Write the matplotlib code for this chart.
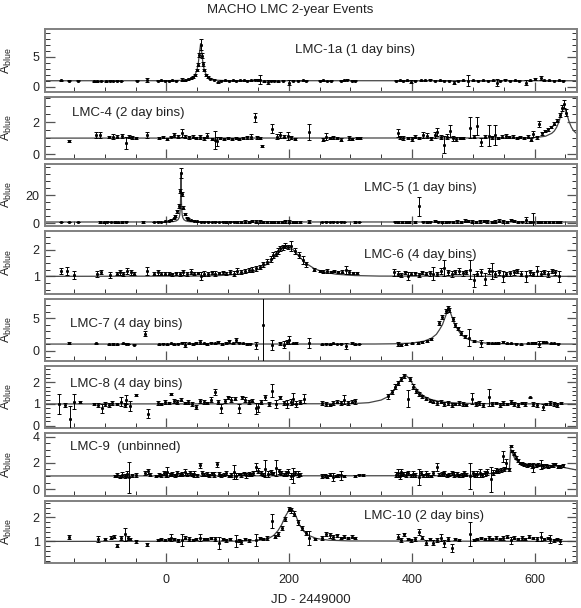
import numpy as np
import matplotlib
matplotlib.use("Agg")
import matplotlib.pyplot as plt
from matplotlib.ticker import MultipleLocator, FixedLocator

plt.rcParams['font.family'] = ['Liberation Sans', 'DejaVu Sans']
plt.rcParams['mathtext.fontset'] = 'custom'
plt.rcParams['mathtext.rm'] = 'Liberation Sans'

# light curves: (JD - 2449000, A_blue, error)
lmc1 = [(-171,1.05,.08),(-159,1.0,.06),(-144,1.0,.06),(-117,.95,.08),(-112,.9,.06),(-106,.95,.07),(-98,.9,.08),
        (-92,1.0,.07),(-86,.95,.06),(-80,1.0,.08),(-74,.95,.07),(-47,1.0,.06),(-32,1.15,.3),(-14,1.0,.06),(-8,1.05,.05),
        (-2,1.0,.06),(4,1.0,.05),(10,1.1,.08),(16,1.0,.06),(25,1.2,.3),(30,1.1,.06),(35,1.25,.08),(40,1.4,.1),
        (44,1.65,.12),(47,2.0,.15),(50,2.8,.2),(52,3.7,.3),(54,5.3,.4),(56,7.0,.9),(58,5.2,.4),(60,3.8,.3),(62,2.8,.2),
        (65,2.0,.15),(68,1.6,.12),(72,1.35,.1),(77,1.15,.08),(84,.75,.12),(90,1.0,.06),(96,1.05,.06),(102,1.0,.07),
        (108,1.1,.06),(114,1.0,.08),(120,1.05,.06),(126,1.1,.07),(132,1.0,.06),(138,1.05,.08),(144,1.2,.1),(149,1.1,.12),
        (153,1.2,.8),(160,.9,.1),(165,.75,.35),(170,1.0,.07),(176,1.0,.06),(182,.95,.08),(190,1.0,.06),(200,.7,.35),
        (206,1.0,.06),(214,1.0,.07),(222,1.05,.06),(228,1.0,.06),(250,1.0,.06),(256,1.05,.07),(262,.95,.06),(268,1.0,.05),
        (285,1.0,.07),(290,1.05,.08),(295,1.2,.1),(302,1.0,.06),(308,1.0,.06),(374,1.0,.08),(380,1.1,.07),(386,1.0,.06),
        (392,1.05,.08),(399,.8,.25),(405,1.0,.07),(415,1.05,.06),(422,1.1,.08),(430,1.2,.08),(438,1.0,.07),(446,1.05,.06),
        (452,1.0,.07),(460,1.0,.06),(468,.7,.3),(476,1.0,.08),(484,1.05,.07),(492,1.0,.9),(500,1.1,.06),(508,1.0,.07),
        (516,1.05,.06),(524,1.0,.08),(532,1.1,.06),(538,.7,.6),(544,1.0,.07),(552,1.2,.1),(560,1.0,.06),(568,1.1,.08),
        (575,1.0,.07),(586,.7,.4),(592,1.05,.06),(600,1.3,.2),(610,1.5,.3),(616,1.1,.08),(624,1.1,.06),(632,1.0,.07),
        (640,1.05,.06),(646,1.0,.05)]
lmc1_fit = [(-197,1.0),(0,1.01),(20,1.05),(30,1.09),(36,1.24),(43,1.56),(47,2.03),(50,2.77),(52,3.75),(54,5.53),
            (56,7.19),(58,5.53),(60,3.75),(62,2.77),(65,2.03),(69,1.56),(76,1.24),(82,1.09),(92,1.04),(110,1.01),(669,1.0)]

lmc4 = [(-159,.82,.08),(-114,1.2,.2),(-108,1.2,.2),(-93,1.05,.06),(-86,1.1,.15),(-80,1.1,.1),(-72,1.15,.12),(-65,.7,.4),
        (-60,1.1,.12),(-55,1.05,.08),(-50,1.0,.06),(-32,1.2,.2),(-11,1.0,.05),(-5,1.05,.06),(1,.95,.05),(7,1.1,.06),
        (13,1.2,.1),(19,1.1,.08),(25,1.35,.25),(31,1.1,.12),(37,1.05,.08),(43,1.1,.1),(49,1.0,.06),(55,1.05,.12),
        (61,1.0,.1),(67,1.15,.15),(74,.95,.08),(79,.9,.55),(83,.8,.3),(88,1.0,.08),(94,.95,.06),(100,1.0,.05),
        (107,.95,.06),(113,1.0,.07),(119,.95,.06),(125,1.0,.06),(131,1.05,.08),(138,1.1,.15),(144,2.3,.27),(148,1.05,.08),
        (152,1.0,.06),(156,.5,.05),(173,1.6,.3),(180,1.1,.15),(186,1.2,.2),(192,1.1,.1),(198,1.15,.25),(204,1.05,.1),
        (210,.95,.06),(233,1.4,.5),(256,.9,.1),(260,1.1,.2),(266,1.0,.06),(272,1.05,.1),(278,1.0,.06),(284,.9,.08),
        (297,1.0,.12),(303,.95,.06),(310,1.0,.07),(316,1.0,.06),(377,1.35,.25),(380,1.05,.08),(386,1.0,.12),(393,1.0,.06),
        (400,.95,.12),(406,1.1,.1),(412,1.0,.08),(418,1.2,.2),(424,1.15,.15),(431,1.0,.1),(437,1.2,.2),(441,1.4,.25),
        (447,1.05,.12),(453,.6,.55),(458,1.1,.15),(462,1.45,.35),(467,1.0,.15),(472,.95,.12),(478,1.0,.08),(484,1.0,.06),
        (495,1.65,.65),(501,1.1,.1),(507,1.75,.55),(513,.75,.25),(519,1.1,.1),(525,1.15,.65),(531,1.05,.1),(535,1.2,.6),
        (541,1.0,.08),(547,1.1,.1),(553,1.15,.12),(559,1.05,.06),(565,1.1,.08),(571,1.0,.06),(577,1.05,.07),(583,1.0,.08),
        (589,1.1,.12),(594,.9,.1),(598,1.25,.2),(604,1.05,.08),(608,1.9,.2),(612,1.3,.1),(617,1.45,.08),(622,1.55,.08),
        (627,1.7,.08),(632,1.9,.1),(637,2.1,.1),(641,2.45,.15),(645,2.9,.2),(648,3.15,.25),(652,2.6,.2)]
lmc4_fit = [(-197,1.0),(560,1.01),(590,1.02),(603,1.04),(618,1.12),(628,1.30),(632,1.44),(636,1.68),(640,2.05),
            (644,2.58),(648,2.95),(652,2.58),(656,2.05),(660,1.68),(664,1.44),(669,1.27)]

lmc5 = [(-171,1.0,.3),(-159,1.0,.3),(-144,1.0,.3),(-108,1.0,.4),(-102,.8,.3),(-96,1.2,.4),(-90,1.0,.3),(-84,1.1,.5),
        (-78,.9,.3),(-72,1.0,.4),(-66,1.2,.3),(-38,1.0,.5),(-20,1.0,.3),(-14,1.2,.4),(-8,1.0,.3),(-2,1.4,.4),(4,1.8,.4),
        (8,2.5,.5),(12,3.5,.6),(15,5.0,.7),(18,8.5,1.0),(20,12.5,1.5),(22,23.0,1.5),(24,35.5,3.5),(26,21.0,1.5),
        (28,11.0,1.0),(30,6.5,.7),(33,4.0,.5),(36,3.0,.5),(40,2.2,.4),(45,1.8,.4),(50,1.5,.3),(56,1.3,.3),(62,1.2,.3),
        (68,1.1,.4),(74,1.0,.3),(80,1.1,.4),(86,1.0,.3),(92,1.2,.5),(98,1.0,.4),(104,1.1,.3),(110,1.3,.5),(116,1.0,.4),
        (122,1.2,.6),(128,1.3,.8),(134,1.0,.5),(140,1.5,.8),(146,1.2,1.0),(152,1.6,1.1),(158,1.0,.5),(164,1.2,.6),
        (170,1.3,.7),(176,1.1,.5),(182,1.0,.4),(188,1.2,.6),(194,1.4,.8),(200,1.3,1.0),(206,1.2,.6),(212,1.0,.4),
        (218,1.1,.5),(233,1.3,1.0),(254,1.0,.3),(260,1.1,.4),(266,1.0,.3),(272,1.2,.4),(278,1.0,.3),(284,1.1,.4),
        (290,1.0,.3),(308,1.0,.5),(314,1.0,.3),(372,1.1,.4),(378,1.0,.5),(384,1.2,.6),(390,1.0,.4),(396,1.1,.8),
        (405,1.0,.5),(411,12.0,6.5),(418,1.2,.5),(424,1.0,.4),(430,1.3,.6),(437,1.6,.7),(443,1.2,.5),(449,1.0,.4),
        (455,1.1,.5),(461,1.3,.6),(467,1.2,.7),(474,1.4,1.0),(480,1.2,.6),(486,1.8,1.0),(492,1.6,.9),(498,1.3,1.2),
        (505,1.0,.5),(511,1.4,1.1),(517,1.7,1.0),(523,1.6,1.0),(530,1.1,.6),(536,1.3,1.1),(542,1.8,1.0),(549,1.5,.9),
        (555,1.2,.7),(561,2.2,.8),(567,1.5,.8),(573,1.0,.5),(579,1.3,.6),(586,2.5,2.0),(592,1.2,.8),(598,1.2,6.5),
        (605,1.1,.6),(611,1.0,.5),(617,1.2,.6),(623,1.0,.4),(630,1.1,.5),(636,1.3,.7),(642,1.0,.4)]
lmc5_fit = [(-197,1.0),(-6,1.03),(6,1.13),(12,1.34),(16,1.74),(19,2.55),(21,4.07),(22,5.98),(23,11.4),(23.5,19.9),
            (24,35.7),(24.5,19.9),(25,11.4),(26,5.98),(27,4.07),(29,2.55),(32,1.74),(36,1.34),(42,1.13),(54,1.03),(669,1.0)]

lmc6 = [(-171,1.2,.12),(-162,1.2,.15),(-150,1.05,.15),(-113,1.1,.12),(-106,1.15,.08),(-92,1.05,.1),(-80,1.1,.06),
        (-75,1.15,.1),(-70,1.1,.08),(-64,1.2,.1),(-58,1.15,.1),(-53,1.1,.06),(-32,1.2,.15),(-20,1.1,.05),(-14,1.15,.1),
        (-8,1.1,.05),(-2,1.1,.05),(4,1.1,.06),(10,1.08,.05),(16,1.12,.06),(22,1.1,.08),(28,1.15,.1),(34,1.1,.08),
        (40,1.18,.08),(46,1.1,.06),(52,1.12,.05),(56,1.02,.15),(62,1.1,.1),(68,1.08,.08),(74,1.15,.06),(80,1.1,.1),
        (86,1.12,.05),(92,1.15,.06),(98,1.1,.05),(104,1.15,.08),(110,1.1,.1),(116,1.2,.1),(122,1.15,.08),(128,1.2,.08),
        (134,1.25,.08),(140,1.25,.1),(146,1.3,.08),(152,1.35,.08),(158,1.45,.1),(164,1.55,.1),(170,1.65,.12),
        (174,1.8,.1),(178,1.85,.1),(182,1.95,.1),(186,2.05,.08),(190,2.1,.1),(194,2.15,.1),(198,2.1,.08),(203,2.15,.18),
        (210,1.95,.1),(216,1.8,.1),(222,1.6,.15),(228,1.45,.08),(240,1.25,.06),(250,1.2,.05),(256,1.18,.05),
        (262,1.2,.06),(268,1.15,.04),(274,1.2,.05),(280,1.15,.04),(286,1.18,.06),(292,1.25,.15),(298,1.15,.08),
        (304,1.12,.04),(310,1.12,.04),(371,1.15,.12),(377,1.1,.1),(383,1.05,.08),(389,1.15,.06),(393,1.0,.15),
        (399,1.1,.05),(405,1.12,.06),(411,1.05,.08),(417,1.15,.06),(423,1.1,.05),(429,1.12,.1),(435,1.1,.25),
        (441,1.1,.08),(447,1.2,.1),(453,1.3,.3),(459,1.15,.1),(465,1.1,.12),(471,1.15,.08),(477,1.2,.1),(483,1.12,.1),
        (489,1.15,.08),(495,1.25,.35),(501,.85,.25),(507,1.1,.1),(513,1.15,.12),(520,.9,.22),(526,1.2,.1),(530,1.2,.3),
        (536,1.1,.12),(542,1.15,.1),(548,1.0,.2),(554,1.1,.08),(560,1.12,.1),(566,1.15,.1),(572,1.2,.08),(578,1.1,.1),
        (586,1.0,.2),(592,1.15,.1),(598,1.1,.08),(604,1.2,.18),(610,1.1,.1),(616,1.15,.08),(622,1.1,.12),(628,1.2,.08),
        (634,1.15,.1),(640,1.0,.2)]
lmc6_fit = [(-197,1.0),(47,1.01),(87,1.03),(117,1.08),(137,1.16),(152,1.28),(167,1.5),(177,1.73),(187,2.0),(197,2.15),
            (207,2.0),(217,1.73),(227,1.5),(242,1.28),(257,1.16),(277,1.08),(307,1.03),(347,1.01),(669,1.0)]

lmc7 = [(-159,1.1,.15),(-114,1.1,.08),(-93,.95,.08),(-86,1.0,.1),(-80,.95,.08),(-71,1.1,.1),(-66,1.05,.08),(-62,1.0,.06),
        (-53,.9,.08),(-35,2.6,.4),(-11,1.0,.08),(-5,1.05,.06),(1,1.0,.08),(7,1.1,.06),(13,1.0,.08),(19,1.05,.06),
        (25,1.2,.1),(31,.9,.4),(37,1.1,.08),(43,1.0,.1),(49,1.15,.1),(55,1.3,.3),(61,1.1,.1),(67,1.05,.12),(73,1.2,.1),
        (79,1.1,.08),(85,1.3,.15),(91,1.0,.1),(97,1.2,.12),(103,1.4,.2),(109,1.1,.12),(113,1.6,.35),(119,1.2,.1),
        (125,1.1,.08),(131,1.0,.1),(137,1.05,.08),(146,.8,.5),(157,4.0,6.0),(173,.9,.8),(185,1.1,.2),(191,.9,.5),
        (197,1.3,.25),(200,1.6,.6),(206,1.1,.1),(212,1.2,.15),(233,1.2,.8),(254,1.0,.08),(260,1.05,.06),(266,1.0,.08),
        (272,1.1,.1),(278,1.0,.06),(284,1.05,.1),(293,.7,.5),(302,1.1,.15),(308,1.0,.08),(314,1.0,.06),(378,1.0,.25),
        (383,.9,.15),(390,1.05,.12),(400,1.1,.1),(410,1.15,.12),(416,1.25,.15),(424,1.45,.15),(432,1.8,.15),
        (445,4.2,.3),(450,5.1,.3),(456,6.1,.3),(459,6.5,.3),(461,6.2,.3),(467,4.9,.3),(470,3.9,.3),(475,3.4,.3),
        (480,2.7,.25),(486,2.2,.2),(493,2.0,1.3),(502,1.5,.15),(513,1.1,.6),(524,1.2,.12),(530,1.1,.1),(535,1.1,.1),
        (541,1.15,.1),(549,1.3,.15),(555,1.1,.1),(562,1.1,.1),(570,1.05,.1),(578,1.0,.08),(589,1.1,.1),(595,1.15,.1),
        (600,1.2,.12),(608,1.0,.5),(614,1.3,.15),(619,1.25,.1),(627,1.1,.08),(632,1.1,.08),(638,1.05,.06)]
lmc7_fit = [(-197,1.0),(340,1.01),(370,1.04),(400,1.15),(420,1.45),(432,1.9),(440,2.5),(445,3.2),(450,4.0),(455,5.3),
            (460,6.6),(465,5.3),(470,4.0),(475,3.2),(480,2.5),(488,1.9),(500,1.45),(520,1.15),(550,1.05),(600,1.01),(669,1.0)]

lmc8 = [(-174,1.0,.45),(-165,.95,.08),(-156,.3,.6),(-150,1.1,.35),(-141,1.1,.05),(-117,1.0,.06),(-111,.95,.08),
        (-105,.8,.22),(-99,1.0,.1),(-93,.95,.08),(-89,1.05,.1),(-80,1.0,.06),(-74,1.1,.2),(-68,.95,.1),(-65,1.2,.22),
        (-59,.9,.22),(-50,1.4,.05),(-29,.55,.2),(-14,1.05,.1),(-8,1.0,.06),(-2,1.1,.08),(4,1.05,.06),(7,1.45,.06),
        (12,1.15,.1),(18,1.1,.08),(24,1.2,.08),(30,1.05,.06),(36,1.1,.1),(42,1.0,.08),(49,.85,.1),(55,1.15,.1),
        (61,1.1,.08),(67,1.05,.06),(73,1.2,.1),(79,1.55,.15),(85,1.1,.08),(90,.8,.2),(96,1.15,.1),(101,1.3,.08),
        (106,1.2,.1),(112,1.25,.08),(118,.8,.22),(124,1.3,.06),(128,1.2,.1),(134,1.1,.08),(140,1.15,.06),(146,.8,.25),
        (150,.85,.2),(155,1.1,.08),(161,1.3,.1),(167,1.0,.1),(173,1.6,.3),(179,1.0,.2),(185,1.3,.08),(191,1.05,.1),
        (197,1.0,.2),(203,1.1,.15),(206,1.25,.25),(212,1.0,.15),(218,1.1,.1),(224,1.25,.22),(254,1.05,.08),(260,1.0,.1),
        (266,.95,.06),(272,1.05,.08),(278,1.1,.06),(284,1.05,.1),(290,1.2,.22),(296,1.05,.08),(302,1.1,.06),
        (308,1.12,.1),(362,1.35,.1),(368,1.55,.1),(373,1.8,.1),(378,1.95,.1),(383,2.15,.1),(388,2.3,.1),(393,1.25,.38),
        (397,2.15,.1),(402,1.8,.1),(407,1.6,.1),(412,1.45,.08),(417,1.35,.08),(423,1.25,.06),(429,1.15,.08),
        (435,1.1,.06),(441,1.05,.08),(447,1.1,.06),(453,1.0,.1),(459,1.05,.08),(465,.95,.1),(471,1.0,.06),
        (477,1.05,.08),(483,1.0,.1),(489,.95,.06),(498,1.25,.25),(504,1.0,.08),(510,1.05,.1),(516,.95,.08),(525,1.3,.4),
        (531,1.0,.1),(537,1.05,.06),(543,.95,.08),(549,1.05,.1),(555,1.0,.06),(561,1.1,.08),(567,1.0,.1),(573,.95,.08),
        (579,1.05,.06),(585,1.0,.08),(592,1.3,.03),(598,1.0,.1),(604,.95,.08),(613,.85,.15),(619,1.0,.06),(625,1.05,.08),
        (631,1.0,.1),(637,.95,.08),(643,1.05,.06)]
lmc8_fit = [(-197,1.0),(300,1.01),(330,1.06),(350,1.18),(360,1.32),(370,1.6),(378,1.95),(384,2.2),(389,2.34),
            (395,2.2),(402,1.9),(410,1.6),(420,1.35),(432,1.2),(450,1.09),(480,1.03),(530,1.01),(669,1.0)]

lmc9 = [(-84,1.0,.1),(-80,1.05,.15),(-76,.95,.1),(-72,1.1,.2),(-68,1.0,.15),(-64,1.15,.2),(-60,.9,1.2),(-56,1.05,.12),
        (-50,1.1,.15),(-35,1.2,.15),(-30,1.35,.2),(-26,1.1,.1),(-17,1.0,.1),(-12,1.1,.12),(-8,1.05,.1),(-4,1.2,.15),
        (0,1.1,.2),(2,1.3,.4),(6,1.1,.1),(10,1.15,.15),(14,1.05,.1),(18,1.2,.2),(22,1.1,.1),(26,1.15,.15),(30,1.3,.2),
        (34,1.1,.1),(38,1.2,.15),(42,1.1,.12),(46,1.15,.2),(50,1.05,.1),(55,1.8,.18),(58,1.2,.2),(62,1.1,.1),
        (66,1.15,.15),(70,1.05,.1),(74,1.2,.12),(78,1.1,.2),(82,1.9,.2),(86,1.15,.15),(90,1.05,.1),(94,1.1,.12),
        (98,1.2,.15),(102,1.0,.1),(106,1.1,.15),(110,1.3,.5),(114,1.0,.2),(118,1.15,.1),(122,1.1,.15),(126,1.2,.1),
        (130,1.05,.2),(134,1.15,.15),(138,1.1,.1),(142,1.25,.15),(146,1.7,.3),(150,1.4,.2),(154,1.2,.15),(158,1.1,.1),
        (161,1.55,.65),(165,1.15,.2),(170,1.3,.15),(174,1.2,.1),(179,1.6,.6),(183,1.35,.2),(187,1.25,.15),(191,1.1,.1),
        (195,1.2,.2),(199,1.3,.25),(203,1.0,.2),(206,1.05,.55),(210,1.2,.15),(214,1.15,.2),(218,1.1,.1),(254,1.0,.15),
        (258,1.05,.1),(262,.95,.12),(266,1.1,.1),(272,.9,.3),(276,1.0,.1),(280,1.05,.1),(284,1.05,.32),(290,1.0,.1),
        (308,1.0,.08),(314,1.1,.06),(320,1.05,.08),(374,1.1,.2),(377,1.2,.3),(380,1.0,.2),(383,1.3,.2),(386,1.15,.15),
        (390,1.1,.2),(394,1.2,.15),(398,1.05,.1),(402,1.15,.2),(406,1.1,.15),(411,.9,.6),(415,1.2,.15),(419,1.05,.1),
        (423,1.15,.2),(427,1.1,.15),(431,1.0,.1),(435,1.2,.15),(441,1.7,.3),(445,1.1,.1),(449,1.15,.15),(453,1.2,.2),
        (457,1.05,.1),(461,1.1,.12),(465,1.2,.15),(469,1.1,.2),(473,1.15,.15),(477,1.05,.1),(481,1.1,.15),(485,1.2,.2),
        (489,1.1,.1),(495,1.0,1.0),(499,1.2,.2),(503,1.1,.15),(507,1.15,.2),(511,1.25,.3),(515,1.1,.15),(519,1.2,.2),
        (523,1.3,.25),(529,.75,.95),(533,1.25,.2),(537,1.4,.2),(541,1.4,.15),(545,1.45,.15),(548,2.5,.4),(551,1.5,.15),
        (554,1.95,.35),(558,1.5,.1),(561,3.25,.08),(564,2.9,.1),(567,2.7,.1),(570,2.4,.1),(573,2.2,.1),(576,2.0,.1),
        (579,1.95,.15),(583,1.85,.1),(587,1.8,.12),(591,1.85,.1),(595,1.75,.15),(598,1.65,.35),(602,1.8,.1),
        (606,1.85,.12),(610,1.85,.35),(614,1.75,.15),(618,1.8,.1),(622,1.7,.12),(626,1.75,.1),(630,1.8,.15),
        (634,1.9,.1),(638,1.7,.1),(642,1.75,.12),(646,1.8,.1)]
lmc9_fit = [(-197,1.0),(480,1.02),(510,1.08),(530,1.2),(545,1.38),(555,1.5),(559,1.55),(561,3.1),(564,2.7),(568,2.3),
            (574,2.05),(582,1.9),(600,1.82),(625,1.8),(640,1.72),(655,1.58),(669,1.45)]

lmc10 = [(-159,1.2,.08),(-111,1.1,.12),(-100,1.1,.05),(-90,1.15,.06),(-85,1.2,.05),(-80,.82,.06),(-74,1.15,.08),
         (-68,1.3,.27),(-62,1.15,.08),(-59,1.1,.05),(-50,1.0,.05),(-32,.88,.07),(-14,1.05,.05),(-8,1.1,.06),(-2,1.05,.04),
         (4,1.1,.05),(7,1.15,.14),(13,1.1,.05),(19,1.05,.06),(25,1.05,.25),(31,1.15,.06),(37,1.1,.08),(43,1.05,.05),
         (49,1.1,.06),(55,1.15,.15),(61,1.1,.05),(67,1.1,.06),(73,1.15,.05),(79,1.1,.08),(86,.95,.25),(92,1.1,.05),
         (98,1.05,.06),(104,1.1,.05),(113,1.0,.25),(118,1.05,.06),(122,.98,.08),(128,1.1,.05),(134,1.05,.06),
         (146,1.05,.25),(152,1.15,.05),(158,1.1,.06),(164,1.15,.08),(173,1.85,.3),(177,1.2,.06),(182,1.3,.08),
         (188,1.55,.08),(194,1.95,.08),(200,2.35,.08),(203,2.3,.1),(208,2.15,.1),(215,1.8,.1),(221,1.55,.08),
         (227,1.35,.08),(233,1.15,.3),(242,1.1,.06),(254,1.15,.08),(260,1.3,.08),(266,1.25,.1),(272,1.2,.08),
         (278,1.25,.06),(284,1.15,.05),(290,1.2,.06),(296,1.15,.05),(302,1.2,.06),(308,1.15,.05),(378,1.2,.1),
         (383,1.05,.08),(387,1.3,.06),(393,1.1,.05),(399,1.05,.06),(405,1.1,.08),(411,1.38,.12),(417,1.15,.06),
         (423,.95,.1),(429,1.1,.05),(435,.95,.12),(441,1.05,.08),(447,1.15,.15),(453,.92,.15),(459,1.1,.08),
         (465,.72,.18),(471,1.1,.06),(477,1.05,.05),(495,1.3,.5),(501,1.05,.05),(507,1.1,.06),(513,1.15,.05),
         (519,1.1,.06),(525,1.15,.08),(531,1.1,.05),(537,1.15,.06),(543,1.1,.05),(549,1.15,.08),(555,1.2,.05),
         (561,1.05,.15),(567,1.15,.06),(573,1.1,.05),(579,1.15,.08),(585,1.1,.05),(591,1.2,.06),(597,1.15,.05),
         (604,1.1,.08),(610,1.2,.18),(616,1.1,.06),(622,1.15,.05),(625,1.1,.15),(631,1.05,.06),(637,1.1,.05),(641,1.0,.1)]
lmc10_fit = [(-197,1.0),(120,1.01),(150,1.04),(165,1.1),(175,1.25),(182,1.45),(188,1.7),(194,2.05),(200,2.3),
             (204,2.35),(208,2.25),(213,1.95),(218,1.65),(224,1.42),(232,1.25),(245,1.12),(265,1.05),(300,1.02),(669,1.0)]

labels = ["LMC-1a (1 day bins)", "LMC-4 (2 day bins)", "LMC-5 (1 day bins)", "LMC-6 (4 day bins)",
          "LMC-7 (4 day bins)", "LMC-8 (4 day bins)", "LMC-9  (unbinned)", "LMC-10 (2 day bins)"]
curves = [lmc1, lmc4, lmc5, lmc6, lmc7, lmc8, lmc9, lmc10]
fits = [lmc1_fit, lmc4_fit, lmc5_fit, lmc6_fit, lmc7_fit, lmc8_fit, lmc9_fit, lmc10_fit]
yticks = [[0, 5], [0, 2], [0, 20], [1, 2], [0, 5], [0, 1, 2], [0, 2, 4], [1, 2]]
xticks = [0, 200, 400, 600]

# panel styling
ylims = [(-0.8, 9.6), (-0.3, 3.6), (-2, 42), (0.35, 2.7), (-1.6, 8.0), (-0.12, 2.75), (-0.5, 4.25), (0.1, 2.7)]
yminor = [1, 0.5, 5, 0.25, 1, 0.2, 0.5, 0.2]
label_pos = [(0.47, 0.66), (0.05, 0.73), (0.6, 0.61), (0.6, 0.62), (0.047, 0.6), (0.047, 0.71), (0.047, 0.78), (0.6, 0.75)]

fig, axes = plt.subplots(8, 1, figsize=(5.81, 6.08), dpi=100, sharex=True)
fig.subplots_adjust(left=0.078, right=0.993, top=0.952, bottom=0.074, hspace=0.08)

frame = '#808080'
for i, ax in enumerate(axes):
    t, a, e = np.array(curves[i]).T
    ft, fa = np.array(fits[i]).T
    ax.plot(ft, fa, color='#444444', lw=0.9, zorder=2)
    ax.errorbar(t, a, yerr=e, fmt='s', ms=1.1, color='black', ecolor='black',
                elinewidth=0.7, capsize=1.5, capthick=0.7, zorder=3)
    ax.set_xlim(-197, 669)
    ax.set_ylim(*ylims[i])
    ax.yaxis.set_major_locator(FixedLocator(yticks[i]))
    ax.yaxis.set_minor_locator(MultipleLocator(yminor[i]))
    ax.xaxis.set_major_locator(FixedLocator(xticks))
    ax.xaxis.set_minor_locator(MultipleLocator(50))
    ax.tick_params(which='both', direction='in', left=True, right=True, top=False, bottom=True,
                   labelsize=9, colors='#222222')
    ax.tick_params(axis='y', pad=4)
    ax.tick_params(axis='x', pad=8)
    ax.tick_params(which='major', length=7, width=0.9, color='#555555')
    ax.tick_params(which='minor', length=3.5, width=0.7, color='#333333')
    for s in ax.spines.values():
        s.set_color(frame)
        s.set_linewidth(1.4)
    ax.text(label_pos[i][0], label_pos[i][1], labels[i], transform=ax.transAxes,
            fontsize=9.5, color='#222222', ha='left', va='center')
    ax.set_ylabel(r'A$_{\rm blue}$', fontsize=9, color='#222222')
    ax.yaxis.set_label_coords(-0.058, 0.5)

axes[-1].set_xlabel('JD - 2449000', fontsize=9.5, color='#222222', labelpad=6)
fig.suptitle('MACHO LMC 2-year Events', fontsize=9.5, color='#222222', y=0.993)

fig.savefig('out.png', dpi=100)
